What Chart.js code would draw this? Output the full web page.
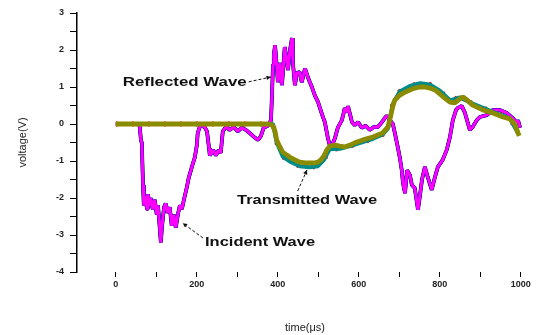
<!DOCTYPE html>
<html>
<head>
<meta charset="utf-8">
<script src="https://cdn.jsdelivr.net/npm/chart.js@4/dist/chart.umd.min.js"></script>
<style>
  html, body { margin: 0; padding: 0; background: #ffffff; }
  #wrap { width: 540px; height: 335px; position: relative; }
</style>
</head>
<body>
<div id="wrap"><canvas id="c" width="540" height="335"></canvas></div>
<script>
// ---- data ----
const incidentReflectedTime = [0,57,59,62,64,67,69,72,77,79,84,86,91,96,101,104,109,111,114,119,123,128,133,138,143,148,153,158,163,168,175,180,188,195,200,202,207,212,220,225,230,232,240,247,254,259,264,272,281,291,301,311,321,331,341,351,358,365,375,383,385,388,390,393,398,400,405,410,412,417,422,425,430,435,437,442,447,454,459,467,474,479,484,491,499,504,511,516,523,528,533,541,548,558,563,565,570,573,578,583,590,598,607,617,627,637,647,657,664,669,677,684,689,696,701,706,709,714,719,726,731,738,746,751,756,763,770,780,788,795,802,807,817,825,832,840,844,854,862,869,874,881,891,899,916,931,948,965,980,990,993,998];
const incidentReflectedV = [0,0,-0.08,-0.45,-0.5,-1.65,-2.2,-1.95,-2.3,-1.9,-2.2,-2.0,-2.3,-2.05,-2.45,-2.2,-2.9,-3.2,-2.75,-2.25,-2.15,-2.4,-2.25,-2.75,-2.45,-2.8,-2.45,-2.2,-2.3,-2.05,-1.72,-1.45,-1.15,-0.9,-0.57,-0.25,-0.08,-0.03,-0.1,-0.2,-0.65,-0.85,-0.7,-0.85,-0.7,-0.78,-0.2,-0.08,-0.16,-0.08,-0.2,-0.1,-0.16,-0.25,-0.35,-0.43,-0.33,-0.1,-0.05,0.1,0.65,1.6,1.86,2.13,1.46,1.13,1.65,1.05,1.32,2.08,1.73,1.46,2.0,2.32,1.68,1.05,1.38,1.4,1.13,1.5,1.27,1.13,1.0,0.78,0.6,0.43,0.2,0.05,-0.35,-0.57,-0.6,-0.38,-0.1,0.1,0.32,0.43,0.32,0.48,0.27,0.05,-0.03,0.05,-0.1,-0.05,-0.16,-0.08,-0.08,0.05,0.16,0.22,0.1,0.0,-0.25,-0.62,-0.9,-1.25,-1.6,-1.87,-1.25,-1.38,-1.65,-1.73,-2.32,-1.92,-1.5,-1.16,-1.43,-1.78,-1.43,-1.16,-1.05,-0.97,-0.7,-0.35,0.1,0.38,0.43,0.49,0.3,0.03,-0.16,-0.08,0.1,0.19,0.24,0.38,0.38,0.3,0.16,0.03,0.1,-0.1];

const transmittedTime = [0,380,388,393,397,405,412,422,430,442,454,467,479,491,499,506,514,521,528,541,553,565,578,590,610,635,659,672,679,684,689,701,714,726,738,751,763,775,788,800,812,825,837,849,857,867,881,906,931,956,973,985,993,996];
const transmittedV = [0,0,-0.05,-0.2,-0.43,-0.62,-0.76,-0.84,-0.9,-0.97,-1.03,-1.05,-1.05,-1.05,-1.03,-0.97,-0.86,-0.7,-0.6,-0.57,-0.6,-0.62,-0.57,-0.51,-0.43,-0.35,-0.24,-0.08,0.24,0.49,0.65,0.78,0.86,0.92,0.97,1.0,1.0,0.97,0.92,0.81,0.7,0.59,0.57,0.68,0.73,0.65,0.51,0.38,0.3,0.19,0.14,0,-0.24,-0.32];

const transmittedEdgeTime = [0,388,397,412,430,454,479,499,514,528,553,590,635,659,672,684,701,726,751,775,800,825,849,881,931,973,993];
const transmittedEdgeV = [0,0,-0.5,-0.88,-1.02,-1.14,-1.17,-1.14,-0.97,-0.68,-0.67,-0.56,-0.4,-0.28,-0.12,0.55,0.88,1.03,1.1,1.07,0.9,0.64,0.72,0.55,0.33,0.15,-0.25];

const xTickValues = [0,100,200,300,400,500,600,700,800,900,1000];
const xTickLabels = ['0','','200','','400','','600','','800','','1000'];
const yTickValues = [3,2.5,2,1.5,1,0.5,0,-0.5,-1,-1.5,-2,-2.5,-3,-3.5,-4];
const yTickLabels = ['3','','2','','1','','0','','-1','','-2','','-3','','-4'];

const annotations = [
  { text: 'Reflected Wave',   x: 170, y: 1.11,  width: 124, from: [328, 1.14],  to: [383, 1.27] },
  { text: 'Transmitted Wave', x: 472, y: -2.08, width: 140, from: [449, -1.81], to: [472, -1.24] },
  { text: 'Incident Wave',    x: 356, y: -3.22, width: 110, from: [215, -3.08], to: [165, -2.68] }
];

function pts(xs, ys) { return xs.map((x, i) => ({ x: x, y: ys[i] })); }

const annoPlugin = {
  id: 'anno',
  afterDatasetsDraw(chart) {
    const ctx = chart.ctx, xs = chart.scales.x, ys = chart.scales.y;
    ctx.save();
    annotations.forEach(a => {
      ctx.font = 'bold 12px "Liberation Sans", Arial, sans-serif';
      ctx.fillStyle = '#111';
      ctx.textBaseline = 'middle';
      ctx.textAlign = 'center';
      const w = ctx.measureText(a.text).width;
      const cx = xs.getPixelForValue(a.x), cy = ys.getPixelForValue(a.y);
      ctx.save();
      ctx.translate(cx, cy);
      ctx.scale(a.width / w, 1);
      ctx.fillText(a.text, 0, 0);
      ctx.restore();
      const x1 = xs.getPixelForValue(a.from[0]), y1 = ys.getPixelForValue(a.from[1]);
      const x2 = xs.getPixelForValue(a.to[0]), y2 = ys.getPixelForValue(a.to[1]);
      ctx.strokeStyle = '#111';
      ctx.lineWidth = 1;
      ctx.setLineDash([3, 2]);
      ctx.beginPath(); ctx.moveTo(x1, y1); ctx.lineTo(x2, y2); ctx.stroke();
      ctx.setLineDash([]);
      const ang = Math.atan2(y2 - y1, x2 - x1), L = 5;
      ctx.fillStyle = '#111';
      ctx.beginPath();
      ctx.moveTo(x2, y2);
      ctx.lineTo(x2 - L * Math.cos(ang - 0.45), y2 - L * Math.sin(ang - 0.45));
      ctx.lineTo(x2 - L * Math.cos(ang + 0.45), y2 - L * Math.sin(ang + 0.45));
      ctx.closePath(); ctx.fill();
    });
    ctx.restore();
  }
};

const irData = pts(incidentReflectedTime, incidentReflectedV);
const trData = pts(transmittedTime, transmittedV);
const teData = pts(transmittedEdgeTime, transmittedEdgeV);

function ds(data, color, width, order, dash) {
  return { data: data, borderColor: color, borderWidth: width, order: order,
           pointRadius: 0, tension: 0, fill: false, borderDash: dash || [], borderJoinStyle: 'bevel' };
}

new Chart(document.getElementById('c'), {
  type: 'line',
  data: {
    datasets: [
      ds(irData, '#000000', 3.8, 9),
      ds(irData, '#0000ff', 3.4, 8),
      ds(irData, '#ff00ff', 3.0, 7),
      ds(teData, '#ff0000', 5, 6, [2, 14]),
      ds(teData, '#008b8b', 4, 5),
      ds(trData, '#8b8b00', 4.8, 4)
    ]
  },
  options: {
    responsive: false,
    animation: false,
    events: [],
    layout: { padding: { top: 13, right: 7, left: 0, bottom: 0 } },
    plugins: { legend: { display: false }, tooltip: { enabled: false } },
    scales: {
      x: {
        type: 'linear', min: -96, max: 1030,
        afterBuildTicks: s => { s.ticks = xTickValues.map(v => ({ value: v })); },
        afterFit: s => { s.height = 63; },
        border: { display: false },
        grid: { display: true, drawOnChartArea: false, drawTicks: true, tickLength: 5, color: '#000', lineWidth: 1 },
        ticks: {
          autoSkip: false, maxRotation: 0, padding: 2, color: '#222',
          font: { family: '"Liberation Sans", Arial, sans-serif', size: 9, weight: 'bold' },
          callback: (v) => { const i = xTickValues.indexOf(v); return i >= 0 ? xTickLabels[i] : ''; }
        },
        title: { display: true, text: 'time(μs)', color: '#222', padding: { top: 0, bottom: 0 },
                 font: { family: '"Liberation Sans", Arial, sans-serif', size: 11 } }
      },
      y: {
        type: 'linear', min: -4, max: 3,
        afterBuildTicks: s => { s.ticks = yTickValues.map(v => ({ value: v })); },
        afterFit: s => { s.width = 77; },
        border: { display: true, color: '#000', width: 1.5 },
        grid: { display: true, drawOnChartArea: false, drawTicks: true, tickLength: 7, color: '#000', lineWidth: 1 },
        ticks: {
          autoSkip: false, padding: 6, color: '#222',
          font: { family: '"Liberation Sans", Arial, sans-serif', size: 9, weight: 'bold' },
          callback: (v) => { const i = yTickValues.indexOf(v); return i >= 0 ? yTickLabels[i] : ''; }
        },
        title: { display: true, text: 'voltage(V)', color: '#222', padding: { top: 16, bottom: 0 },
                 font: { family: '"Liberation Sans", Arial, sans-serif', size: 11 } }
      }
    }
  },
  plugins: [annoPlugin]
});
</script>
</body>
</html>
